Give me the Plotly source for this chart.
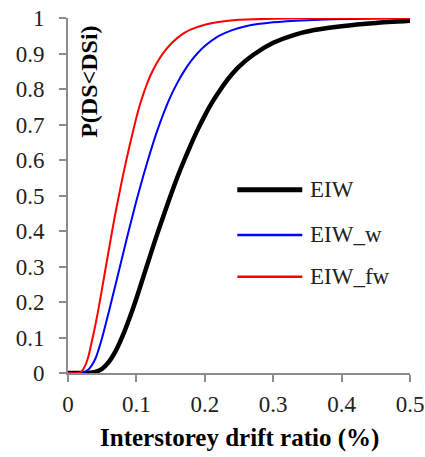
import plotly.graph_objects as go

# Values
eiw_x = [0.0, 0.03, 0.04, 0.05, 0.06, 0.07, 0.08, 0.09, 0.1, 0.11, 0.12, 0.13, 0.14, 0.15, 0.16,
         0.17, 0.18, 0.19, 0.2, 0.21, 0.22, 0.23, 0.24, 0.25, 0.27, 0.3, 0.33, 0.36, 0.4, 0.45, 0.5]
eiw_y = [0.0, 0.0, 0.003, 0.012, 0.032, 0.063, 0.105, 0.155, 0.21, 0.27, 0.33, 0.389, 0.445, 0.50,
         0.552, 0.60, 0.645, 0.687, 0.725, 0.76, 0.79, 0.818, 0.842, 0.863, 0.895, 0.93, 0.952,
         0.966, 0.977, 0.986, 0.992]

eiw_w_x = [0.0, 0.02, 0.03, 0.04, 0.05, 0.06, 0.07, 0.08, 0.09, 0.1, 0.11, 0.12, 0.13, 0.14, 0.15,
           0.16, 0.17, 0.18, 0.19, 0.2, 0.22, 0.24, 0.26, 0.3, 0.35, 0.4, 0.5]
eiw_w_y = [0.0, 0.0, 0.01, 0.04, 0.10, 0.175, 0.253, 0.332, 0.41, 0.485, 0.555, 0.62, 0.68, 0.733,
           0.779, 0.818, 0.851, 0.879, 0.902, 0.921, 0.949, 0.966, 0.977, 0.988, 0.994, 0.997, 0.999]

eiw_fw_x = [0.0, 0.015, 0.02, 0.025, 0.03, 0.035, 0.04, 0.045, 0.05, 0.055, 0.06, 0.065, 0.07,
            0.075, 0.08, 0.085, 0.09, 0.095, 0.1, 0.105, 0.11, 0.115, 0.12, 0.13, 0.14, 0.15,
            0.16, 0.17, 0.18, 0.2, 0.22, 0.25, 0.3, 0.35, 0.4, 0.5]
eiw_fw_y = [0.0, 0.0, 0.005, 0.02, 0.048, 0.09, 0.135, 0.185, 0.24, 0.295, 0.35, 0.405, 0.457,
            0.505, 0.553, 0.597, 0.64, 0.68, 0.72, 0.755, 0.785, 0.812, 0.836, 0.874, 0.903, 0.926,
            0.944, 0.958, 0.968, 0.981, 0.989, 0.995, 0.998, 0.999, 1.0, 1.0]

series_names = ["EIW", "EIW_w", "EIW_fw"]
series_colors = ["#000000", "#0000ff", "#ff0000"]
series_widths = [4.5, 2, 2]

x_ticks = [0, 0.1, 0.2, 0.3, 0.4, 0.5]
y_ticks = [0, 0.1, 0.2, 0.3, 0.4, 0.5, 0.6, 0.7, 0.8, 0.9, 1]

FONT = "Liberation Serif, Tinos, Times New Roman, DejaVu Serif, serif"
TXT = "#222222"
AX = "#8c8c8c"

fig = go.Figure()
xs = [eiw_x, eiw_w_x, eiw_fw_x]
ys = [eiw_y, eiw_w_y, eiw_fw_y]
for name, x, y, c, w in zip(series_names, xs, ys, series_colors, series_widths):
    fig.add_trace(go.Scatter(x=x, y=y, mode="lines", name=name,
                             line=dict(color=c, width=w, shape="spline", smoothing=0.6),
                             cliponaxis=False, showlegend=False))

# manual legend
leg_y = [0.516, 0.389, 0.271]
for name, c, w, yy in zip(series_names, series_colors, series_widths, leg_y):
    fig.add_shape(type="line", xref="paper", yref="paper", x0=0.495, x1=0.685, y0=yy, y1=yy,
                  line=dict(color=c, width=w + 0.5))
    fig.add_annotation(xref="paper", yref="paper", x=0.702, y=yy, text=name, showarrow=False,
                       xanchor="left", yanchor="middle", font=dict(family=FONT, size=23, color=TXT))

fig.add_annotation(xref="paper", yref="paper", x=0.063, y=0.819, text="<b>P(DS<DSi)</b>",
                   textangle=-90, showarrow=False, xanchor="center", yanchor="middle",
                   font=dict(family=FONT, size=24, color="#000000"))
fig.add_annotation(xref="paper", yref="paper", x=0.5, y=-0.183,
                   text="<b>Interstorey drift ratio (%)</b>", showarrow=False,
                   xanchor="center", yanchor="middle",
                   font=dict(family=FONT, size=25, color="#000000"))

fig.update_layout(
    template="none",
    width=425, height=457,
    margin=dict(l=67.5, r=15, t=18, b=84, autoexpand=False),
    paper_bgcolor="white", plot_bgcolor="white",
    showlegend=False,
    font=dict(family=FONT, size=22, color=TXT),
)
fig.update_xaxes(range=[0, 0.5], tickvals=x_ticks, ticktext=[f"{v:g}" for v in x_ticks],
                 automargin=False,
                 showgrid=False, zeroline=False, showline=True, linecolor=AX, linewidth=2,
                 ticks="outside", ticklen=7, tickwidth=2, tickcolor=AX, layer="below traces",
                 ticklabelstandoff=2, tickfont=dict(family=FONT, size=23, color=TXT))
fig.update_yaxes(range=[0, 1], tickvals=y_ticks, ticktext=[f"{v:g}" for v in y_ticks],
                 automargin=False,
                 showgrid=False, zeroline=False, showline=True, linecolor=AX, linewidth=2,
                 ticks="outside", ticklen=7, tickwidth=2, tickcolor=AX, layer="below traces",
                 ticklabelstandoff=10, tickfont=dict(family=FONT, size=23, color=TXT))

fig.write_html("out.html")
